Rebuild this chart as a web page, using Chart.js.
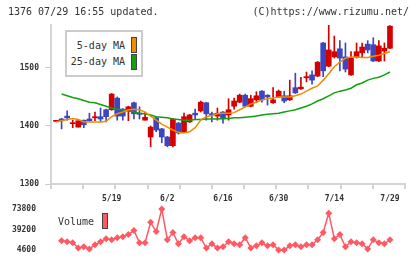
<!DOCTYPE html>
<html>
<head>
<meta charset="utf-8">
<script src="https://cdn.jsdelivr.net/npm/chart.js@4.4.1/dist/chart.umd.min.js"></script>
<style>
  body { margin: 0; background: #fff; }
  #wrap { position: relative; width: 420px; height: 259px; overflow: hidden; font-family: 'DejaVu Sans Mono', monospace; color: #333; }
  canvas { position: absolute; left: 0; }
  #priceChart { top: 0; }
  #volChart { top: 201px; }
  .txt { position: absolute; font-size: 10px; line-height: 12px; white-space: pre; }
  .box { position: absolute; width: 4px; height: 14px; border: 1px solid #444; }
</style>
</head>
<body>
<div id="wrap">
  <canvas id="priceChart" width="420" height="205"></canvas>
  <canvas id="volChart" width="420" height="58"></canvas>
  <div class="txt" style="left:8px; top:6px;">1376 07/29 16:55 updated.</div>
  <div class="txt" style="right:11px; top:6px;">(C)https://www.rizumu.net/</div>
  <div style="position:absolute; left:65px; top:30px; width:74px; height:43px; border:2px solid #ccc; background:#fff;"></div>
  <div class="txt" style="right:295px; top:40px;">5-day MA</div>
  <div class="box" style="left:131px; top:37px; background:#f08c00;"></div>
  <div class="txt" style="right:295px; top:56px;">25-day MA</div>
  <div class="box" style="left:131px; top:54px; background:#10a010;"></div>
  <div class="txt" style="left:58px; top:216px;">Volume</div>
  <div class="box" style="left:102px; top:213px; background:#ff5a64;"></div>
</div>
<script>
// 取引日 (5/1 - 7/29)
const dates = [
  '5/1','5/2','5/7','5/8','5/9','5/12','5/13','5/14','5/15','5/16',
  '5/19','5/20','5/21','5/22','5/23','5/26','5/27','5/28','5/29','5/30',
  '6/2','6/3','6/4','6/5','6/6','6/9','6/10','6/11','6/12','6/13',
  '6/16','6/17','6/18','6/19','6/20','6/23','6/24','6/25','6/26','6/27',
  '6/30','7/1','7/2','7/3','7/4','7/7','7/8','7/9','7/10','7/11',
  '7/14','7/15','7/16','7/17','7/18','7/22','7/23','7/24','7/25','7/28',
  '7/29'
];
const labelDays = [10, 20, 30, 40, 50, 60];

const opens  = [1408,1412,1417,1404,1398,1410,1412,1414,1416,1428, 1428,1448,1429,1426,1440,1422,1410,1381,1414,1395,
                1381,1366,1405,1390,1407,1422,1426,1440,1421,1417, 1424,1419,1434,1441,1453,1434,1445,1460,1453,1440,
                1450,1452,1445,1466,1464,1483,1488,1486,1543,1503, 1519,1533,1519,1488,1519,1526,1541,1540,1512,1529, 1534];
const highs  = [1409,1413,1426,1410,1409,1410,1422,1424,1431,1429, 1456,1450,1430,1434,1441,1433,1424,1400,1415,1396,
                1382,1413,1406,1422,1420,1429,1443,1441,1424,1431, 1425,1447,1448,1455,1455,1453,1459,1461,1454,1466,
                1462,1460,1479,1491,1484,1493,1495,1511,1544,1574, 1555,1547,1543,1528,1543,1543,1547,1552,1547,1543, 1573];
const lows   = [1408,1395,1410,1397,1398,1397,1408,1409,1407,1407, 1427,1410,1410,1409,1412,1412,1410,1364,1390,1371,
                1364,1364,1386,1389,1406,1412,1424,1410,1407,1410, 1405,1410,1429,1440,1433,1433,1440,1441,1436,1439,
                1449,1440,1444,1456,1463,1476,1472,1485,1485,1502, 1517,1495,1493,1487,1517,1519,1526,1511,1511,1512, 1533];
const closes = [1409,1409,1414,1405,1409,1402,1409,1416,1412,1416, 1455,1417,1417,1433,1421,1420,1415,1398,1393,1381,
                1366,1412,1388,1416,1419,1419,1441,1421,1419,1422, 1412,1428,1443,1453,1434,1447,1452,1445,1450,1445,
                1460,1443,1452,1457,1467,1485,1479,1510,1495,1531, 1528,1517,1498,1517,1528,1536,1531,1512,1538,1534, 1572];

const ma5  = [1407,1409,1411,1413,1411,1407,1407,1407,1407,1408, 1416,1421,1424,1428,1429,1428,1424,1417,1410,1403,
              1398,1393,1389,1388,1390,1397,1410,1416,1418,1421, 1422,1422,1423,1428,1433,1438,1441,1445,1447,1448,
              1450,1450,1450,1452,1455,1460,1465,1469,1479,1490, 1502,1510,1517,1519,1519,1518,1518,1520,1522,1525, 1528];
const ma25 = [null,1455,1452,1449,1447,1444,1441,1440,1437,1434, 1431,1429,1428,1426,1424,1422,1421,1419,1416,1415,
              1414,1412,1411,1410,1410,1411,1411,1412,1412,1412, 1413,1413,1414,1414,1415,1416,1417,1419,1420,1421,
              1422,1424,1426,1428,1431,1434,1438,1443,1447,1452, 1457,1460,1462,1465,1471,1474,1479,1482,1484,1488, 1493];

const volumes = [null,20170,18440,16710,8060,9790,6330,13250,18440,23630, 21900,25360,27090,30550,37470,16710,16710,51310,35740,73800,
                 21900,34010,14980,27090,20170,25360,25360,8060,14980,8060, 9790,18440,14980,13250,25360,8060,11520,16710,11520,13250,
                 4600,4600,11520,13250,9790,13250,13250,21900,34010,66880, 23630,30550,9790,18440,16710,14980,6330,21900,16710,14980, 21900];

const priceTicks = [1300, 1400, 1500];
const volTicks = [4600, 39200, 73800];

const UP = '#d40000';
const DOWN = '#3c46be';
const tickFont = { family: 'DejaVu Sans Mono', size: 8, weight: 'bold' };

const candleColors = closes.map((c, i) => c >= opens[i] ? UP : DOWN);
const xMin = -0.9, xMax = 62.7;

// y軸の幅を固定し、ラベル分の余白を消す
function fixYAxis(s) {
    s.width = 51;
    s.paddingTop = 0;
    s.paddingBottom = 0;
}

new Chart(document.getElementById('priceChart'), {
    type: 'bar',
    data: {
        datasets: [
            {
                type: 'line',
                data: ma5.map((v, i) => ({ x: i, y: v })),
                borderColor: '#f08c00',
                borderWidth: 1.5,
                pointRadius: 0,
                tension: 0
            },
            {
                type: 'line',
                data: ma25.map((v, i) => ({ x: i, y: v })),
                borderColor: '#10a010',
                borderWidth: 1.5,
                pointRadius: 0,
                tension: 0
            },
            {
                data: opens.map((o, i) => ({ x: i, y: [o, closes[i]] })),
                backgroundColor: candleColors,
                barThickness: 5,
                minBarLength: 1,
                grouped: false
            },
            {
                data: lows.map((l, i) => ({ x: i, y: [l, highs[i]] })),
                backgroundColor: candleColors,
                barThickness: 1,
                grouped: false
            }
        ]
    },
    options: {
        responsive: false,
        animation: false,
        layout: { autoPadding: false, padding: { left: 0, right: 15, top: 25, bottom: 0 } },
        plugins: { legend: { display: false }, tooltip: { enabled: false } },
        scales: {
            x: {
                type: 'linear',
                position: 'bottom',
                weight: 1,
                offset: false,
                min: xMin,
                max: xMax,
                afterBuildTicks: s => { s.ticks = labelDays.map(v => ({ value: v })); },
                afterFit: s => { s.height = 21; },
                grid: { display: false, offset: false },
                border: { display: true, color: '#d4d4d4', width: 2 },
                ticks: {
                    autoSkip: false,
                    maxRotation: 0,
                    padding: 2,
                    color: '#333',
                    font: tickFont,
                    callback: v => dates[v]
                }
            },
            x2: {
                type: 'linear',
                position: 'bottom',
                weight: 0,
                offset: false,
                min: 0,
                max: 11,
                afterFit: s => { s.height = 0; },
                ticks: { display: false, stepSize: 1 },
                grid: { drawOnChartArea: false, drawTicks: true, tickLength: 5, color: '#d4d4d4', lineWidth: 2, offset: false },
                border: { display: false }
            },
            y: {
                min: 1300,
                max: 1574,
                afterBuildTicks: s => { s.ticks = priceTicks.map(v => ({ value: v })); },
                afterFit: fixYAxis,
                grid: { drawOnChartArea: false, tickLength: 6, color: '#cccccc' },
                border: { color: '#d4d4d4', width: 2 },
                ticks: { padding: 6, color: '#333', font: tickFont, callback: v => String(v) }
            }
        }
    }
});

new Chart(document.getElementById('volChart'), {
    type: 'line',
    data: {
        datasets: [{
            data: volumes.map((v, i) => ({ x: i, y: v })),
            borderColor: '#ff5a64',
            backgroundColor: '#ff5a64',
            borderWidth: 1.5,
            pointStyle: 'rectRot',
            pointRadius: 3.5,
            pointBorderWidth: 0,
            clip: false
        }]
    },
    options: {
        responsive: false,
        animation: false,
        layout: { autoPadding: false, padding: { left: 0, right: 15, top: 4, bottom: 5 } },
        plugins: { legend: { display: false }, tooltip: { enabled: false } },
        scales: {
            x: { type: 'linear', min: xMin, max: xMax, display: false },
            y: {
                min: -2320,
                max: 80720,
                afterBuildTicks: s => { s.ticks = volTicks.map(v => ({ value: v })); },
                afterFit: fixYAxis,
                grid: { display: false },
                border: { display: false },
                ticks: { padding: 7, color: '#333', font: tickFont, callback: v => String(v) }
            }
        }
    }
});
</script>
</body>
</html>
